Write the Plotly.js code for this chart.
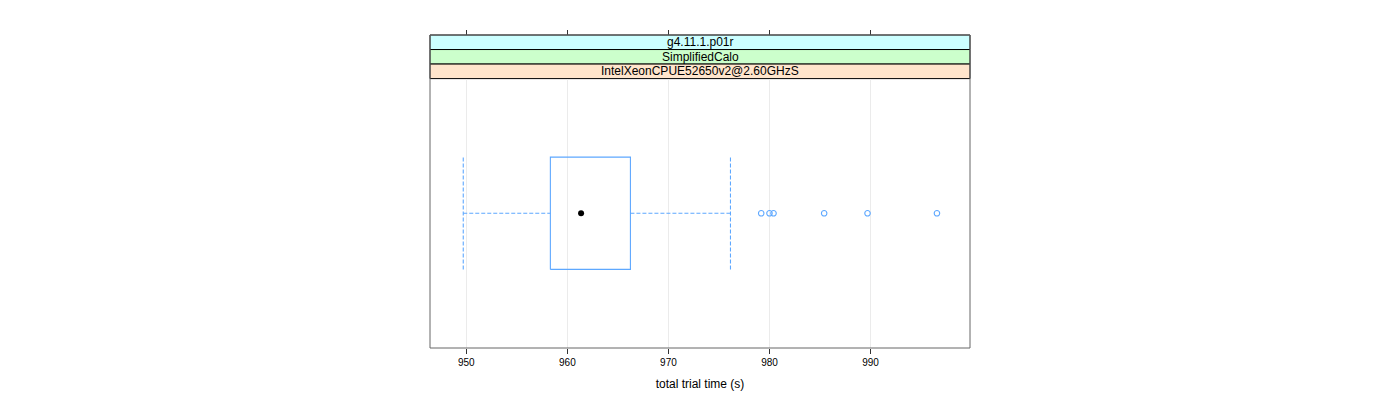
<!DOCTYPE html>
<html>
<head>
<meta charset="utf-8">
<script src="https://cdn.plot.ly/plotly-3.0.1.min.js"></script>
<style>html,body{margin:0;padding:0;background:#fff;}#chart{width:1400px;height:400px;}</style>
</head>
<body>
<div id="chart"></div>
<script>
// ---- data ----
const stripRelease = ["g4.11.1.p01r"];
const stripTest = ["SimplifiedCalo"];
const stripCpu = ["IntelXeonCPUE52650v2@2.60GHzS"];
const lowerWhisker = [949.7];
const q1 = [958.32];
const median = [961.36];
const q3 = [966.24];
const upperWhisker = [976.14];
const outliers = [979.18, 980.0, 980.4, 985.41, 989.7, 996.57];
const xTicks = [950, 960, 970, 980, 990];
const xTitle = "total trial time (s)";

// ---- styling ----
const FONT = "Liberation Sans, Arial, Helvetica, sans-serif";
const BLUE = "#5ea8ff";
const pos = 1;       // single factor level
const half = 0.25;   // half box height (box.ratio = 1)

const traces = [];
// box rectangle
traces.push({
  x: [q1[0], q3[0], q3[0], q1[0], q1[0]],
  y: [pos - half, pos - half, pos + half, pos + half, pos - half],
  mode: "lines", line: {color: BLUE, width: 1.1}, hoverinfo: "skip", showlegend: false
});
// whiskers (dashed)
traces.push({
  x: [lowerWhisker[0], q1[0], null, q3[0], upperWhisker[0]],
  y: [pos, pos, null, pos, pos],
  mode: "lines", line: {color: BLUE, width: 1.1, dash: "4px,2px"}, hoverinfo: "skip", showlegend: false
});
// whisker caps (dashed)
traces.push({
  x: [lowerWhisker[0], lowerWhisker[0], null, upperWhisker[0], upperWhisker[0]],
  y: [pos - half, pos + half, null, pos - half, pos + half],
  mode: "lines", line: {color: BLUE, width: 1.1, dash: "4px,2px"}, hoverinfo: "skip", showlegend: false
});
// outliers
traces.push({
  x: outliers, y: outliers.map(() => pos),
  mode: "markers", marker: {symbol: "circle-open", size: 5.5, color: BLUE, line: {width: 1.1, color: BLUE}},
  showlegend: false
});
// median dot
traces.push({
  x: median, y: [pos], mode: "markers",
  marker: {symbol: "circle", size: 6, color: "#000"}, showlegend: false
});
// invisible trace on the top axis so its ticks are drawn
traces.push({
  x: median, y: [pos], xaxis: "x2", mode: "markers",
  marker: {size: 1, opacity: 0}, hoverinfo: "skip", showlegend: false
});

const xRange = [946.41, 999.84];
const yTop = 0.8607;           // plot area top in paper units (strips above)
const stripH = (1 - yTop) / 3;

const stripLabels = [stripRelease[0], stripTest[0], stripCpu[0]];
const stripColors = ["#ccffff", "#ccffcc", "#ffe5cc"];
const shapes = [];
const annotations = [];
stripLabels.forEach((lab, i) => {
  const y1 = 1 - i * stripH, y0 = 1 - (i + 1) * stripH;
  shapes.push({type: "rect", xref: "paper", yref: "paper", x0: 0, x1: 1, y0: y0, y1: y1,
    fillcolor: stripColors[i], line: {color: "#000", width: 1}, layer: "below"});
  annotations.push({xref: "paper", yref: "paper", x: 0.5, y: (y0 + y1) / 2, text: lab,
    showarrow: false, xanchor: "center", yanchor: "middle", font: {family: FONT, size: 12, color: "#000"}});
});
// panel border
shapes.push({type: "rect", xref: "paper", yref: "paper", x0: 0, x1: 1, y0: 0, y1: 1,
  line: {color: "#666", width: 1}, fillcolor: "rgba(0,0,0,0)"});

const layout = {
  width: 1400, height: 400,
  margin: {l: 430, r: 430, t: 35, b: 52},
  paper_bgcolor: "#fff", plot_bgcolor: "#fff",
  font: {family: FONT, size: 10, color: "#000"},
  showlegend: false,
  xaxis: {
    range: xRange, tickvals: xTicks, ticktext: xTicks.map(String),
    ticks: "outside", ticklen: 5, tickcolor: "#333", tickwidth: 1,
    showgrid: true, gridcolor: "#ebebeb", gridwidth: 1,
    zeroline: false, showline: false,
    tickfont: {family: FONT, size: 10, color: "#000"},
    title: {text: xTitle, font: {family: FONT, size: 12, color: "#000"}, standoff: 12},
    automargin: false, fixedrange: true
  },
  xaxis2: {
    overlaying: "x", side: "top", anchor: "free", position: 1,
    range: xRange, tickvals: xTicks, showticklabels: false,
    ticks: "outside", ticklen: 5, tickcolor: "#333", tickwidth: 1,
    showgrid: false, zeroline: false, showline: false, automargin: false
  },
  yaxis: {
    domain: [0, yTop], range: [0.4, 1.6], showticklabels: false, ticks: "",
    showgrid: false, zeroline: false, showline: false, fixedrange: true
  },
  shapes: shapes,
  annotations: annotations
};

Plotly.newPlot("chart", traces, layout, {staticPlot: true, displayModeBar: false});
</script>
</body>
</html>
